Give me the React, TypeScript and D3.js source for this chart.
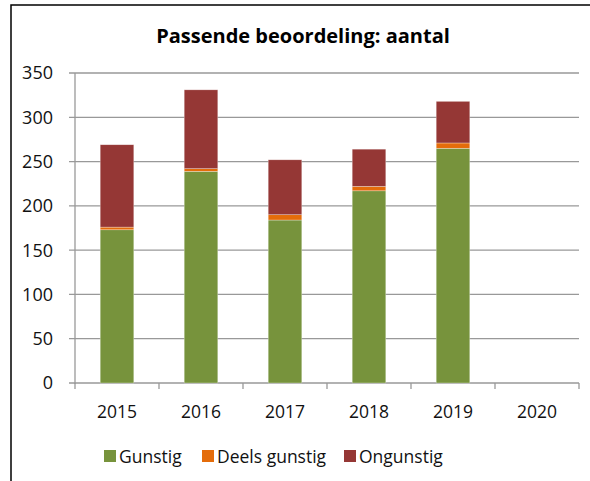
import { useEffect, useRef } from "react";
import * as d3 from "d3";

// Chart data
const years = ["2015", "2016", "2017", "2018", "2019", "2020"];
const gunstig = [173, 239, 184, 217, 265, 0];
const deelsGunstig = [3, 3, 6, 5, 6, 0];
const ongunstig = [93, 89, 62, 42, 47, 0];
const seriesNames = ["Gunstig", "Deels gunstig", "Ongunstig"];
const seriesColors = ["#77933C", "#E46C0A", "#953735"];
const yTicks = [0, 50, 100, 150, 200, 250, 300, 350];

const width = 590;
const height = 481;
const margin = { top: 73, right: 11, bottom: 98, left: 75 };
const font = "'Open Sans', sans-serif";

const drawChart = (svgEl: SVGSVGElement) => {
    const svg = d3.select(svgEl);
    svg.selectAll("*").remove();

    const rows = years.map((y, i) => ({
        year: y,
        Gunstig: gunstig[i],
        "Deels gunstig": deelsGunstig[i],
        Ongunstig: ongunstig[i],
    }));

    const x = d3.scaleBand()
        .domain(years)
        .range([margin.left, width - margin.right])
        .paddingInner(0.6)
        .paddingOuter(0.3);

    const y = d3.scaleLinear()
        .domain([0, 350])
        .range([height - margin.bottom, margin.top]);

    const stack = d3.stack<any>().keys(seriesNames);
    const stacked = stack(rows);

    // outer frame
    svg.append("rect")
        .attr("x", 11)
        .attr("y", 5)
        .attr("width", width)
        .attr("height", height)
        .attr("fill", "white")
        .attr("stroke", "black")
        .attr("stroke-width", 1.5);

    // title
    svg.append("text")
        .attr("x", 303)
        .attr("y", 43)
        .attr("text-anchor", "middle")
        .attr("font-family", font)
        .attr("font-weight", "bold")
        .attr("font-size", 20)
        .text("Passende beoordeling: aantal");

    const gridColor = "#999999";

    // gridlines + y tick labels
    const yg = svg.append("g");
    yg.selectAll("line")
        .data(yTicks)
        .join("line")
        .attr("x1", margin.left - 6)
        .attr("x2", width - margin.right)
        .attr("y1", d => y(d))
        .attr("y2", d => y(d))
        .attr("stroke", gridColor)
        .attr("stroke-width", 1.3);
    yg.selectAll("text")
        .data(yTicks)
        .join("text")
        .attr("x", 53)
        .attr("y", d => y(d))
        .attr("dy", "0.36em")
        .attr("text-anchor", "end")
        .attr("font-family", font)
        .attr("font-size", 18)
        .attr("fill", "#111")
        .text(d => d);

    // bars
    svg.append("g")
        .selectAll("g")
        .data(stacked)
        .join("g")
        .attr("fill", (_, i) => seriesColors[i])
        .selectAll("rect")
        .data(d => d)
        .join("rect")
        .attr("x", d => x(d.data.year)!)
        .attr("width", x.bandwidth())
        .attr("y", d => y(d[1]))
        .attr("height", d => Math.max(0, y(d[0]) - y(d[1])))
        .attr("stroke", "white")
        .attr("stroke-opacity", 0.5)
        .attr("stroke-width", 0.6);

    // y axis line
    svg.append("line")
        .attr("x1", margin.left)
        .attr("x2", margin.left)
        .attr("y1", y(350))
        .attr("y2", y(0) + 1)
        .attr("stroke", gridColor)
        .attr("stroke-width", 1.3);

    // x axis ticks at band boundaries
    const step = x.step();
    const bounds = d3.range(years.length + 1).map(i => margin.left + i * step);
    svg.append("g")
        .selectAll("line")
        .data(bounds)
        .join("line")
        .attr("x1", d => d)
        .attr("x2", d => d)
        .attr("y1", y(0))
        .attr("y2", y(0) + 6)
        .attr("stroke", gridColor)
        .attr("stroke-width", 1.3);

    svg.append("g")
        .selectAll("text")
        .data(years)
        .join("text")
        .attr("x", d => x(d)! + x.bandwidth() / 2)
        .attr("y", 418)
        .attr("text-anchor", "middle")
        .attr("font-family", font)
        .attr("font-size", 17.5)
        .attr("fill", "#111")
        .text(d => d);

    // legend
    const legendX = [104, 202, 344];
    const lg = svg.append("g")
        .selectAll("g")
        .data(seriesNames)
        .join("g")
        .attr("transform", (_, i) => `translate(${legendX[i]},450)`);
    lg.append("rect")
        .attr("width", 12)
        .attr("height", 12)
        .attr("fill", (_, i) => seriesColors[i]);
    lg.append("text")
        .attr("x", 15)
        .attr("y", 12.5)
        .attr("font-family", font)
        .attr("font-size", 17.5)
        .attr("fill", "#111")
        .text(d => d);
};

export default function App() {
    const ref = useRef<SVGSVGElement>(null);

    useEffect(() => {
        if (ref.current) drawChart(ref.current);
    }, []);

    return (
        <svg
            ref={ref}
            width={width}
            height={height}
            style={{ position: "absolute", left: 0, top: 0 }}
        />
    );
}
